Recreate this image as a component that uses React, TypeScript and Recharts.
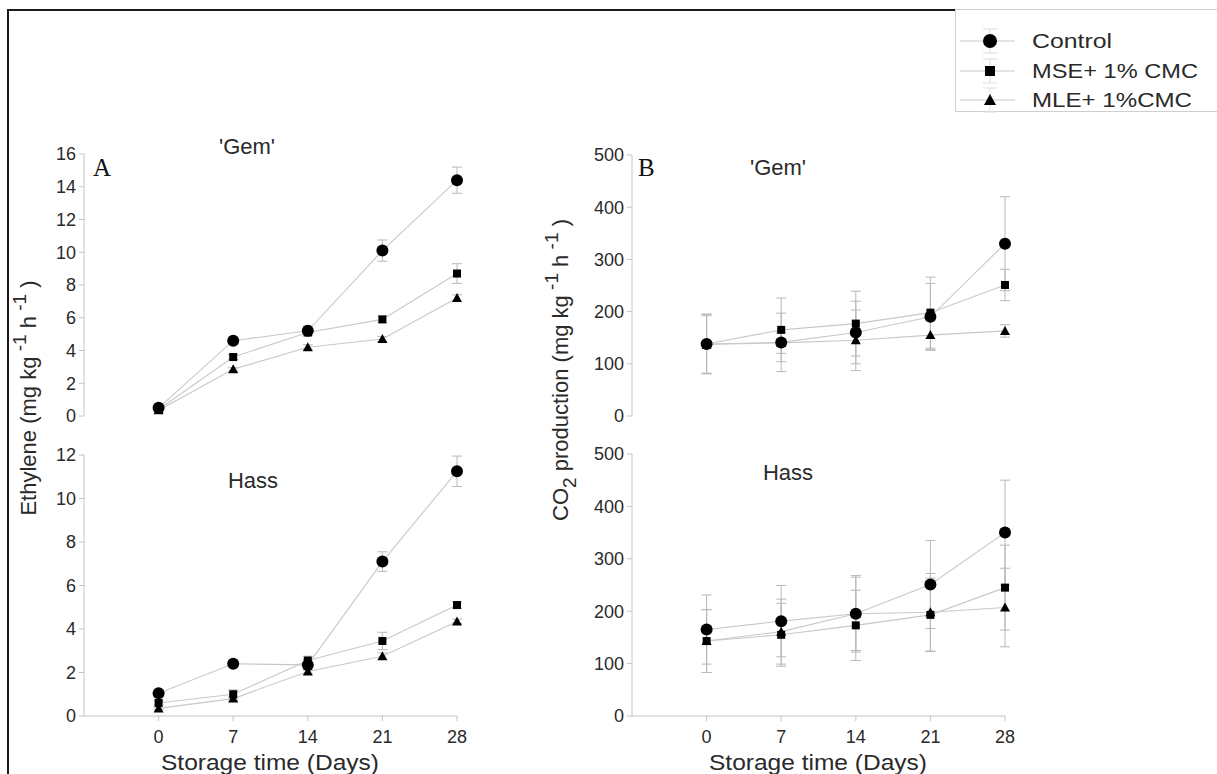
import React from 'react';
import { LineChart, Line, XAxis, YAxis, ErrorBar } from 'recharts';

// storage days
const DAYS = [0, 7, 14, 21, 28];
const SERIES_NAMES = ['Control', 'MSE+ 1% CMC', 'MLE+ 1%CMC'];

// A - ethylene, 'Gem'
const gemEthControl = [0.5, 4.6, 5.2, 10.1, 14.4];
const gemEthControlErr = [0.15, 0.2, 0.3, 0.65, 0.8];
const gemEthMse = [0.4, 3.6, 5.1, 5.9, 8.7];
const gemEthMseErr = [0.1, 0.15, 0.2, 0.2, 0.6];
const gemEthMle = [0.35, 2.85, 4.2, 4.7, 7.2];
const gemEthMleErr = [0.1, 0.1, 0.15, 0.15, 0.2];

// A - ethylene, Hass
const hassEthControl = [1.05, 2.4, 2.35, 7.1, 11.25];
const hassEthControlErr = [0.1, 0.15, 0.25, 0.45, 0.7];
const hassEthMse = [0.6, 1.0, 2.55, 3.45, 5.1];
const hassEthMseErr = [0.1, 0.2, 0.2, 0.4, 0.15];
const hassEthMle = [0.35, 0.8, 2.05, 2.75, 4.35];
const hassEthMleErr = [0.05, 0.1, 0.1, 0.15, 0.1];

// B - CO2, 'Gem'
const gemCo2Control = [138, 141, 160, 190, 330];
const gemCo2ControlErr = [57, 56, 60, 64, 90];
const gemCo2Mse = [138, 165, 177, 198, 251];
const gemCo2MseErr = [57, 61, 62, 68, 30];
const gemCo2Mle = [137, 140, 145, 155, 163];
const gemCo2MleErr = [55, 20, 58, 28, 12];

// B - CO2, Hass
const hassCo2Control = [165, 181, 195, 251, 350];
const hassCo2ControlErr = [66, 68, 73, 84, 100];
const hassCo2Mse = [143, 155, 173, 193, 245];
const hassCo2MseErr = [60, 60, 67, 70, 81];
const hassCo2Mle = [143, 161, 195, 198, 207];
const hassCo2MleErr = [60, 62, 70, 74, 75];

const ETH_TICKS_16 = [0, 2, 4, 6, 8, 10, 12, 14, 16];
const ETH_TICKS_12 = [0, 2, 4, 6, 8, 10, 12];
const CO2_TICKS = [0, 100, 200, 300, 400, 500];

const FONT = '"Liberation Sans", Arial, sans-serif';
const LINE_COLOR = '#c8c8c8';
const ERR_COLOR = '#b8b8b8';
const AXIS_COLOR = '#c4c4c4';
const TEXT_COLOR = '#2a2a2a';

const YW = 60;
const MT = 12;
const MR = 12;
const XH = 44;

const CircleDot = (props: any) => {
    const { cx, cy, index } = props;
    if (cx == null || cy == null) return <g key={`c-${index}`} />;
    return <circle key={`c-${index}`} cx={cx} cy={cy} r={6} fill="#000" />;
};

const SquareDot = (props: any) => {
    const { cx, cy, index } = props;
    if (cx == null || cy == null) return <g key={`s-${index}`} />;
    return <rect key={`s-${index}`} x={cx - 4} y={cy - 4} width={8} height={8} fill="#000" />;
};

const TriangleDot = (props: any) => {
    const { cx, cy, index } = props;
    if (cx == null || cy == null) return <g key={`t-${index}`} />;
    return <path key={`t-${index}`} d={`M${cx},${cy - 5} L${cx + 5},${cy + 4} L${cx - 5},${cy + 4} Z`} fill="#000" />;
};

interface PanelProps {
    left: number;
    top: number;
    width: number;
    height: number;
    yMax: number;
    yTicks: number[];
    showX: boolean;
    control: number[];
    controlErr: number[];
    mse: number[];
    mseErr: number[];
    mle: number[];
    mleErr: number[];
}

const Panel: React.FC<PanelProps> = (p) => {
    const data = DAYS.map((day, i) => ({
        day,
        control: p.control[i],
        controlErr: p.controlErr[i],
        mse: p.mse[i],
        mseErr: p.mseErr[i],
        mle: p.mle[i],
        mleErr: p.mleErr[i],
    }));

    const tickStyle = { fontSize: 18, fill: TEXT_COLOR, fontFamily: FONT };

    return (
        <div style={{ position: 'absolute', left: p.left - YW, top: p.top - MT }}>
            <LineChart
                width={YW + p.width + MR}
                height={MT + p.height + XH}
                data={data}
                margin={{ top: MT, right: MR, left: 0, bottom: 0 }}
            >
                <XAxis
                    dataKey="day"
                    type="number"
                    domain={[-7, 28]}
                    ticks={DAYS}
                    height={XH}
                    axisLine={p.showX ? { stroke: AXIS_COLOR } : false}
                    tickLine={p.showX ? { stroke: AXIS_COLOR } : false}
                    tick={p.showX ? tickStyle : false}
                    tickSize={5}
                    tickMargin={9}
                    interval={0}
                />
                <YAxis
                    type="number"
                    domain={[0, p.yMax]}
                    ticks={p.yTicks}
                    width={YW}
                    axisLine={{ stroke: AXIS_COLOR }}
                    tickLine={{ stroke: AXIS_COLOR }}
                    tick={tickStyle}
                    tickSize={5}
                    tickMargin={3}
                    interval={0}
                />
                <Line dataKey="mle" stroke={LINE_COLOR} strokeWidth={1.1} dot={TriangleDot} isAnimationActive={false}>
                    <ErrorBar dataKey="mleErr" direction="y" width={5} stroke={ERR_COLOR} strokeWidth={1} />
                </Line>
                <Line dataKey="mse" stroke={LINE_COLOR} strokeWidth={1.1} dot={SquareDot} isAnimationActive={false}>
                    <ErrorBar dataKey="mseErr" direction="y" width={5} stroke={ERR_COLOR} strokeWidth={1} />
                </Line>
                <Line dataKey="control" stroke={LINE_COLOR} strokeWidth={1.1} dot={CircleDot} isAnimationActive={false}>
                    <ErrorBar dataKey="controlErr" direction="y" width={5} stroke={ERR_COLOR} strokeWidth={1} />
                </Line>
            </LineChart>
        </div>
    );
};

const LegendBox: React.FC = () => {
    const rows = [32, 62, 91];
    const widths = [80, 166, 160];
    const markers = [
        <circle key="m0" cx={35} cy={rows[0]} r={7} fill="#000" />,
        <rect key="m1" x={30} y={rows[1] - 5} width={10} height={10} fill="#000" />,
        <path key="m2" d={`M35,${rows[2] - 6} L41,${rows[2] + 5} L29,${rows[2] + 5} Z`} fill="#000" />,
    ];
    return (
        <svg width={262} height={104} style={{ position: 'absolute', left: 955, top: 9 }}>
            <rect x={0.5} y={0.5} width={270} height={102} fill="#fff" stroke="#cfcfcf" />
            {SERIES_NAMES.map((name, i) => (
                <g key={name}>
                    <line x1={5} x2={60} y1={rows[i]} y2={rows[i]} stroke={LINE_COLOR} />
                    <line x1={35} x2={35} y1={rows[i] - 12} y2={rows[i] + 12} stroke="#ddd" />
                    <line x1={28} x2={42} y1={rows[i] - 12} y2={rows[i] - 12} stroke="#ddd" />
                    <line x1={28} x2={42} y1={rows[i] + 12} y2={rows[i] + 12} stroke="#ddd" />
                    {markers[i]}
                    <text x={77} y={rows[i] + 7} fontSize={21} fontFamily={FONT} fill={TEXT_COLOR}
                        textLength={widths[i]} lengthAdjust="spacingAndGlyphs">{name}</text>
                </g>
            ))}
        </svg>
    );
};

const Labels: React.FC = () => (
    <svg width={1217} height={774} style={{ position: 'absolute', left: 0, top: 0, pointerEvents: 'none' }}>
        <g fontFamily={FONT} fill={TEXT_COLOR}>
            <text x={247} y={154} fontSize={22} textAnchor="middle">'Gem'</text>
            <text x={253} y={488} fontSize={22} textAnchor="middle">Hass</text>
            <text x={778} y={175} fontSize={22} textAnchor="middle">'Gem'</text>
            <text x={788} y={480} fontSize={22} textAnchor="middle">Hass</text>
            <text x={270} y={770} fontSize={22} textAnchor="middle" textLength={218} lengthAdjust="spacingAndGlyphs">Storage time (Days)</text>
            <text x={818} y={770} fontSize={22} textAnchor="middle" textLength={218} lengthAdjust="spacingAndGlyphs">Storage time (Days)</text>
            <text transform="translate(36,398) rotate(-90)" fontSize={22} textAnchor="middle">
                Ethylene (mg kg<tspan dy={-10} fontSize={19}> -1</tspan>
                <tspan dy={10}> h</tspan>
                <tspan dy={-10} fontSize={19}> -1</tspan>
                <tspan dy={10}> )</tspan>
            </text>
            <text transform="translate(568,370) rotate(-90)" fontSize={22} textAnchor="middle">
                CO<tspan dy={8} fontSize={19}>2</tspan>
                <tspan dy={-8}> production (mg kg</tspan>
                <tspan dy={-10} fontSize={19}> -1</tspan>
                <tspan dy={10}> h</tspan>
                <tspan dy={-10} fontSize={19}> -1</tspan>
                <tspan dy={10}> )</tspan>
            </text>
        </g>
        <g fontFamily='"Liberation Serif", "Times New Roman", serif' fill="#111">
            <text x={93} y={176} fontSize={25}>A</text>
            <text x={638} y={176} fontSize={25}>B</text>
        </g>
    </svg>
);

const App: React.FC = () => {
    return (
        <div style={{ position: 'absolute', left: 0, top: 0, width: 1217, height: 774, background: '#fff', overflow: 'hidden' }}>
            <div style={{ position: 'absolute', left: 7, top: 9, width: 1300, height: 900, borderLeft: '2px solid #1a1a1a', borderTop: '2px solid #1a1a1a' }} />
            <Panel left={84} top={154} width={373} height={262} yMax={16} yTicks={ETH_TICKS_16} showX={false}
                control={gemEthControl} controlErr={gemEthControlErr} mse={gemEthMse} mseErr={gemEthMseErr} mle={gemEthMle} mleErr={gemEthMleErr} />
            <Panel left={84} top={455} width={373} height={261} yMax={12} yTicks={ETH_TICKS_12} showX={true}
                control={hassEthControl} controlErr={hassEthControlErr} mse={hassEthMse} mseErr={hassEthMseErr} mle={hassEthMle} mleErr={hassEthMleErr} />
            <Panel left={632} top={155} width={373} height={261} yMax={500} yTicks={CO2_TICKS} showX={false}
                control={gemCo2Control} controlErr={gemCo2ControlErr} mse={gemCo2Mse} mseErr={gemCo2MseErr} mle={gemCo2Mle} mleErr={gemCo2MleErr} />
            <Panel left={632} top={454} width={373} height={262} yMax={500} yTicks={CO2_TICKS} showX={true}
                control={hassCo2Control} controlErr={hassCo2ControlErr} mse={hassCo2Mse} mseErr={hassCo2MseErr} mle={hassCo2Mle} mleErr={hassCo2MleErr} />
            <LegendBox />
            <Labels />
        </div>
    );
};

export default App;
